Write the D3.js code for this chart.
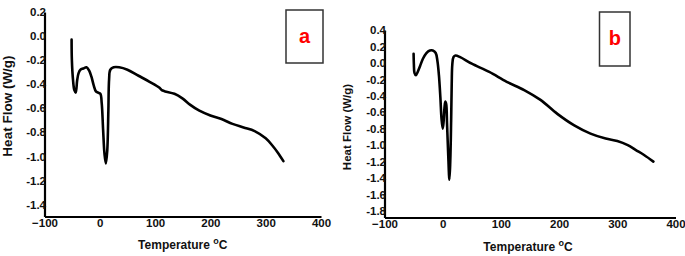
<!DOCTYPE html>
<html>
<head>
<meta charset="utf-8">
<script src="https://cdn.jsdelivr.net/npm/d3@7"></script>
<style>
  body { margin: 0; background: #fff; }
  svg { display: block; font-family: Arial, "Liberation Sans", sans-serif; }
</style>
</head>
<body>
<div id="chart"></div>
<script>
// ---- data ----
const tempA = [-51, -50.5, -48.5, -46, -43.5, -41, -38.5, -35, -30, -24, -19, -15, -11, -7, -3, 1, 3.5, 6, 8.5, 11, 13.5, 15.5, 16.8, 19, 25, 35, 50, 70, 90, 108, 112, 118, 135, 150, 163, 180, 200, 220, 240, 260, 280, 300, 312, 322, 332];
const heatA = [-0.03, -0.2, -0.36, -0.45, -0.47, -0.37, -0.31, -0.28, -0.27, -0.26, -0.29, -0.34, -0.41, -0.46, -0.47, -0.48, -0.56, -0.78, -0.98, -1.06, -0.95, -0.62, -0.36, -0.28, -0.26, -0.26, -0.28, -0.33, -0.38, -0.43, -0.45, -0.46, -0.48, -0.52, -0.57, -0.62, -0.66, -0.69, -0.73, -0.76, -0.79, -0.85, -0.91, -0.97, -1.04];

const tempB = [-50, -49.5, -48.5, -46, -43, -39, -34, -28, -22, -17, -12, -9, -6.5, -4, -2, 0, 1.5, 3, 4.5, 6, 7.5, 9.5, 11.5, 13, 14.5, 15.5, 16.5, 18.5, 22, 30, 50, 80, 110, 140, 168, 197, 226, 254, 280, 300, 318, 332, 346, 362];
const heatB = [0.11, -0.02, -0.12, -0.15, -0.11, -0.04, 0.05, 0.12, 0.15, 0.15, 0.12, 0.02, -0.15, -0.42, -0.68, -0.8, -0.72, -0.55, -0.47, -0.5, -0.75, -1.12, -1.42, -1.2, -0.7, -0.25, -0.02, 0.07, 0.09, 0.07, -0.01, -0.11, -0.23, -0.33, -0.45, -0.62, -0.76, -0.86, -0.92, -0.95, -1.0, -1.06, -1.12, -1.2];

const xTicks = [-100, 0, 100, 200, 300, 400];
const yTicksA = [0.2, 0.0, -0.2, -0.4, -0.6, -0.8, -1.0, -1.2, -1.4];
const yTicksB = [0.4, 0.2, 0.0, -0.2, -0.4, -0.6, -0.8, -1.0, -1.2, -1.4, -1.6, -1.8];

const W = 685, H = 256;

const svg = d3.select('#chart').append('svg')
    .attr('width', W)
    .attr('height', H);

// one DSC panel
function drawPanel(p) {
  const x = d3.scaleLinear().domain([-100, 400]).range(p.xRange);
  const y = d3.scaleLinear().domain(p.yDomain).range(p.yRange);
  const g = svg.append('g');

  // y axis
  const gy = g.append('g')
      .attr('transform', `translate(${p.xRange[0]},0)`)
      .call(d3.axisLeft(y).tickValues(p.yTicks).tickSize(0).tickSizeOuter(0)
        .tickPadding(-1.5).tickFormat(d => d.toFixed(1)));

  // x axis
  const gx = g.append('g')
      .attr('transform', `translate(0,${p.yRange[0]})`)
      .call(d3.axisBottom(x).tickValues(xTicks).tickSize(0).tickSizeOuter(0)
        .tickPadding(2).tickFormat(d3.format('d')));

  [gy, gx].forEach(a => {
    a.select('.domain').attr('stroke', '#000').attr('stroke-width', 2.2);
    a.selectAll('text')
      .attr('fill', '#111')
      .style('font-size', '11.5px')
      .style('font-weight', 'bold');
  });

  // axis titles
  const t = g.append('text')
      .attr('x', (p.xRange[0] + p.xRange[1]) / 2 + p.xTitleShift)
      .attr('y', p.xTitleY)
      .attr('text-anchor', 'middle')
      .attr('fill', '#111')
      .style('font-size', '12px')
      .style('font-weight', 'bold');
  t.append('tspan').text('Temperature ');
  t.append('tspan').attr('dy', -5).style('font-size', '9px').text('o');
  t.append('tspan').attr('dy', 5).text('C');

  g.append('text')
      .attr('transform', `translate(${p.yTitleX},${p.yTitleY}) rotate(-90)`)
      .attr('text-anchor', 'middle')
      .attr('fill', '#111')
      .style('font-size', p.yTitleSize + 'px')
      .style('font-weight', 'bold')
      .text('Heat Flow (W/g)');

  // trace
  const line = d3.line()
      .x(d => x(d[0]))
      .y(d => y(d[1]))
      .curve(d3.curveCatmullRom.alpha(0.5));

  g.append('path')
      .datum(d3.zip(p.temp, p.heat))
      .attr('fill', 'none')
      .attr('stroke', '#000')
      .attr('stroke-width', 2.6)
      .attr('stroke-linejoin', 'round')
      .attr('stroke-linecap', 'round')
      .attr('d', line);

  // panel label box
  const b = p.box;
  g.append('rect')
      .attr('x', b[0]).attr('y', b[1])
      .attr('width', b[2]).attr('height', b[3])
      .attr('fill', '#fff')
      .attr('stroke', '#333')
      .attr('stroke-width', 1.5);
  g.append('text')
      .attr('x', b[0] + b[2] / 2)
      .attr('y', b[1] + b[3] / 2 + 6)
      .attr('text-anchor', 'middle')
      .attr('fill', '#ff0000')
      .style('font-size', '20px')
      .style('font-weight', 'bold')
      .text(p.label);
}

drawPanel({
  temp: tempA, heat: heatA, yTicks: yTicksA,
  xRange: [44.5, 321], yDomain: [-1.5, 0.2], yRange: [216.5, 12],
  xTitleShift: 0, xTitleY: 249,
  yTitleX: 12, yTitleY: 106, yTitleSize: 13.5,
  box: [286, 10, 37, 53], label: 'a'
});

drawPanel({
  temp: tempB, heat: heatB, yTicks: yTicksB,
  xRange: [384.5, 675.5], yDomain: [-1.88, 0.4], yRange: [217.5, 30],
  xTitleShift: -2, xTitleY: 251,
  yTitleX: 351, yTitleY: 127, yTitleSize: 11.5,
  box: [599.5, 12, 30.5, 54], label: 'b'
});
</script>
</body>
</html>
